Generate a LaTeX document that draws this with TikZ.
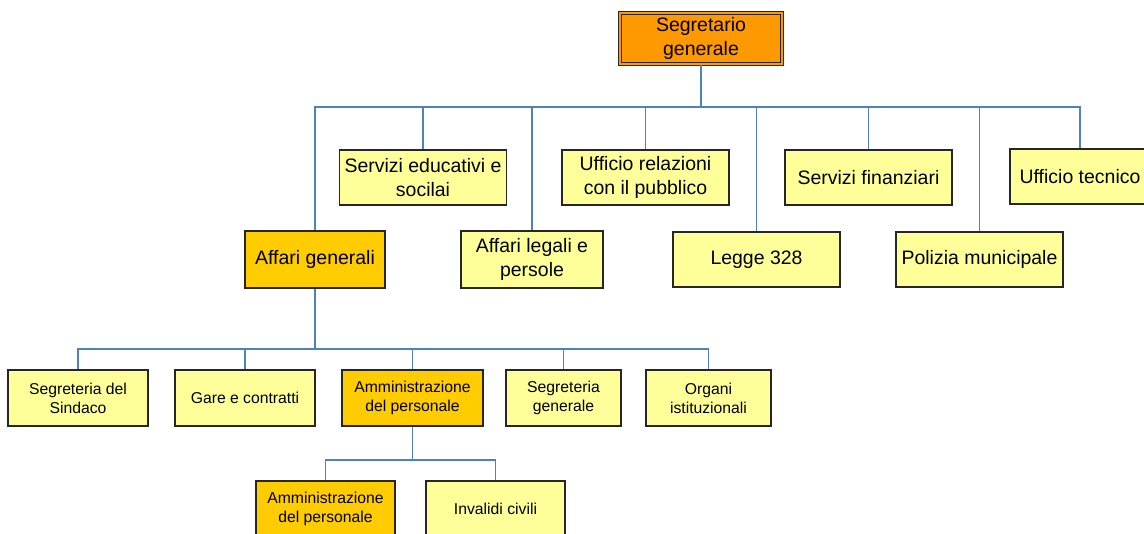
\documentclass[tikz,border=0pt]{standalone}
\usepackage{fontspec}
\setmainfont{Liberation Sans}
\definecolor{capo}{HTML}{FF9900}
\definecolor{oro}{HTML}{FFCC00}
\definecolor{giallo}{HTML}{FFFF99}
\definecolor{filo}{HTML}{4F81BD}

\begin{document}
\begin{tikzpicture}[x=0.75pt,y=-0.75pt,
  ufficio/.style={draw=black!85,line width=0.9pt,fill=giallo,align=center,inner sep=1pt,
    minimum width=167*0.75pt,minimum height=55*0.75pt,font=\fontsize{14.6}{17.5}\selectfont},
  sezione/.style={ufficio,minimum width=140*0.75pt,minimum height=56*0.75pt,
    font=\fontsize{11.8}{14.3}\selectfont},
  filo/.style={draw=filo,line width=0.8pt}]
\useasboundingbox (0,0) rectangle (1144,533);
\clip (0,0) rectangle (1144,533);
\node[ufficio,fill=capo,double=capo,double distance=1.4pt,line width=0.9pt,minimum width=162*0.75pt,minimum height=51*0.75pt] (sg) at (701,38.5) {Segretario\\generale};
\node[ufficio] (edu) at (423,177.5) {Servizi educativi e\\socilai};
\node[ufficio] (urp) at (645.5,177.5) {Ufficio relazioni\\con il pubblico};
\node[ufficio] (fin) at (868.5,177.5) {Servizi finanziari};
\node[ufficio,minimum width=140*0.75pt] (tec) at (1080,176.5) {Ufficio tecnico};
\node[ufficio,fill=oro,minimum width=140*0.75pt,minimum height=57*0.75pt] (ag) at (315,259.5) {Affari generali};
\node[ufficio,minimum width=142*0.75pt,minimum height=57*0.75pt] (leg) at (532,259.5) {Affari legali e\\persole};
\node[ufficio] (l328) at (756.5,259.5) {Legge 328};
\node[ufficio] (pol) at (979.5,259.5) {Polizia municipale};
%\node[ufficio] (x) at (0,0) {};
\node[sezione] (sin) at (78,398) {Segreteria del\\Sindaco};
\node[sezione] (gare) at (245,398) {Gare e contratti};
\node[sezione,fill=oro,minimum width=141*0.75pt] (amm) at (412.5,398) {Amministrazione\\del personale};
\node[sezione,minimum width=115*0.75pt] (sgen) at (563.5,398) {Segreteria\\generale};
\node[sezione,minimum width=125*0.75pt] (org) at (708.5,398) {Organi\\istituzionali};
\node[sezione,fill=oro,minimum width=139*0.75pt] (amm2) at (325.5,509) {Amministrazione\\del personale};
\node[sezione,minimum width=139*0.75pt] (inv) at (495.5,509) {Invalidi civili};
\coordinate (b1) at (701,107);
\coordinate (b2) at (315,349);
\coordinate (b3) at (412.5,460);
\draw[filo,line width=1.1pt] (sg) -- (b1);
\draw[filo] (b1) -| (ag.north);
\draw[filo] (b1) -| (edu.north);
\draw[filo] (b1) -| (leg.north);
\draw[filo] (b1) -| (urp.north);
\draw[filo] (b1) -| (l328.north);
\draw[filo] (b1) -| (fin.north);
\draw[filo] (b1) -| (pol.north);
\draw[filo] (b1) -| (tec.north);
\draw[filo,line width=1.1pt] (ag) -- (b2);
\draw[filo] (b2) -| (sin.north);
\draw[filo] (b2) -| (gare.north);
\draw[filo] (b2) -| (amm.north);
\draw[filo] (b2) -| (sgen.north);
\draw[filo] (b2) -| (org.north);
\draw[filo] (amm) -- (b3);
\draw[filo] (b3) -| (amm2.north);
\draw[filo] (b3) -| (inv.north);
\end{tikzpicture}
\end{document}
